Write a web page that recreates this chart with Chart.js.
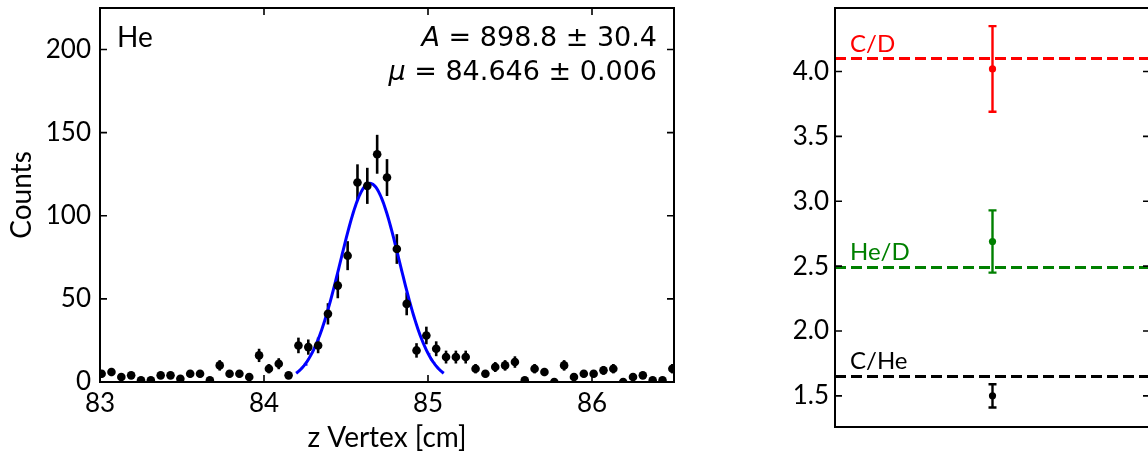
<!DOCTYPE html>
<html>
<head>
<meta charset="utf-8">
<script src="https://cdn.jsdelivr.net/npm/chart.js@4.4.1/dist/chart.umd.min.js"></script>
<style>
  html, body { margin: 0; padding: 0; background: #fff; overflow: hidden; }
  #wrap { position: relative; width: 1148px; height: 460px; overflow: hidden; }
  #peakChart { position: absolute; left: 0; top: 0; }
  #ratioChart { position: absolute; left: 760px; top: 0; }
</style>
</head>
<body>
<div id="wrap">
  <canvas id="peakChart" width="700" height="460"></canvas>
  <canvas id="ratioChart" width="400" height="460"></canvas>
</div>
<script>
// z-vertex bin centres [cm] and counts, He target
const zCenters = [
  83.01, 83.07, 83.13, 83.19, 83.25, 83.31, 83.37, 83.43, 83.49, 83.55,
  83.61, 83.67, 83.73, 83.79, 83.85, 83.91, 83.97, 84.03, 84.09, 84.15,
  84.21, 84.27, 84.33, 84.39, 84.45, 84.51, 84.57, 84.63, 84.69, 84.75,
  84.81, 84.87, 84.93, 84.99, 85.05, 85.11, 85.17, 85.23, 85.29, 85.35,
  85.41, 85.47, 85.53, 85.59, 85.65, 85.71, 85.77, 85.83, 85.89, 85.95,
  86.01, 86.07, 86.13, 86.19, 86.25, 86.31, 86.37, 86.43, 86.49
];
const heCounts = [
  5, 6, 3, 4, 1, 1, 4, 4, 2, 5,
  5, 1, 10, 5, 5, 3, 16, 8, 11, 4,
  22, 21, 22, 41, 58, 76, 120, 118, 137, 123,
  80, 47, 19, 28, 20, 15, 15, 15, 8, 5,
  9, 10, 12, 1, 8, 6, 0, 10, 3, 5,
  5, 7, 8, 0, 3, 4, 1, 1, 8
];
const binWidth = 0.06;

// gaussian fit result
const fitA = 898.8, fitAErr = 30.4;
const fitMu = 84.646, fitMuErr = 0.006;
const fitSigma = 0.18;

// measured ratios vs expectation
const ratioNames = ['C/D', 'He/D', 'C/He'];
const ratioValues = [4.02, 2.69, 1.50];
const ratioErrors = [0.33, 0.24, 0.09];
const ratioExpected = [4.10, 2.49, 1.65];
const ratioColors = ['#ff0000', '#008000', '#000000'];

const xTicksZ = [83, 84, 85, 86];

const tickFont = { family: 'Lato', size: 26 };
const titleFont = { family: 'Lato', size: 28 };

// keep the plot box exactly where the layout padding puts it
function noLabelPadding(s) {
  s.paddingTop = 0; s.paddingBottom = 0;
  s.paddingLeft = 0; s.paddingRight = 0;
}

// box + inward ticks on all sides
const frameTicks = {
  id: 'frameTicks',
  afterDraw(chart, args, opts) {
    const { ctx, chartArea: a, scales } = chart;
    const len = 7;
    ctx.save();
    ctx.strokeStyle = '#000';
    ctx.lineWidth = 1.6;
    ctx.beginPath();
    if (opts.xTicks) {
      scales.x.ticks.forEach(t => {
        const px = scales.x.getPixelForValue(t.value);
        ctx.moveTo(px, a.bottom); ctx.lineTo(px, a.bottom - len);
        ctx.moveTo(px, a.top); ctx.lineTo(px, a.top + len);
      });
    }
    scales.y.ticks.forEach(t => {
      const py = scales.y.getPixelForValue(t.value);
      ctx.moveTo(a.left, py); ctx.lineTo(a.left + len, py);
      ctx.moveTo(a.right, py); ctx.lineTo(a.right - len, py);
    });
    ctx.stroke();
    ctx.lineWidth = 2;
    ctx.strokeRect(a.left, a.top, a.right - a.left, a.bottom - a.top);
    ctx.restore();
  }
};

// vertical error bars, drawn under the markers
const errorBars = {
  id: 'errorBars',
  beforeDatasetsDraw(chart) {
    const { ctx, chartArea: a, scales: { x, y } } = chart;
    ctx.save();
    ctx.beginPath();
    ctx.rect(a.left, a.top, a.right - a.left, a.bottom - a.top);
    ctx.clip();
    chart.data.datasets.forEach(ds => {
      if (!ds.errors) return;
      ctx.strokeStyle = ds.errorColor;
      ctx.lineWidth = ds.errorWidth;
      ds.data.forEach((p, i) => {
        const e = ds.errors[i];
        if (!e) return;
        const px = x.getPixelForValue(p.x);
        const top = y.getPixelForValue(p.y + e);
        const bot = y.getPixelForValue(p.y - e);
        ctx.beginPath();
        ctx.moveTo(px, top); ctx.lineTo(px, bot);
        if (ds.capHalf) {
          ctx.moveTo(px - ds.capHalf, top); ctx.lineTo(px + ds.capHalf, top);
          ctx.moveTo(px - ds.capHalf, bot); ctx.lineTo(px + ds.capHalf, bot);
        }
        ctx.stroke();
      });
    });
    ctx.restore();
  }
};

// target name and fit parameters
const peakNotes = {
  id: 'peakNotes',
  afterDraw(chart) {
    const { ctx, chartArea: a } = chart;
    ctx.save();
    ctx.fillStyle = '#000';
    ctx.textBaseline = 'alphabetic';
    ctx.font = '28px Lato';
    ctx.textAlign = 'left';
    ctx.fillText('He', a.left + 17, a.top + 39);

    const lines = [
      ['A', ' = ' + fitA.toFixed(1) + ' \u00b1 ' + fitAErr.toFixed(1), a.top + 38],
      ['\u03bc', ' = ' + fitMu.toFixed(3) + ' \u00b1 ' + fitMuErr.toFixed(3), a.top + 72]
    ];
    const right = a.right - 17;
    lines.forEach(([sym, rest, base]) => {
      ctx.font = '27px "DejaVu Sans"';
      const wRest = ctx.measureText(rest).width;
      ctx.font = 'italic 27px "DejaVu Sans"';
      const wSym = ctx.measureText(sym).width;
      const x0 = right - wRest - wSym;
      ctx.fillText(sym, x0, base);
      ctx.font = '27px "DejaVu Sans"';
      ctx.fillText(rest, x0 + wSym, base);
    });
    ctx.restore();
  }
};

// names above the dashed expectation lines
const ratioNotes = {
  id: 'ratioNotes',
  afterDraw(chart) {
    const { ctx, chartArea: a, scales: { y } } = chart;
    ctx.save();
    ctx.font = '24px Lato';
    ctx.textAlign = 'left';
    ctx.textBaseline = 'alphabetic';
    ratioNames.forEach((name, i) => {
      ctx.fillStyle = ratioColors[i];
      ctx.fillText(name, a.left + 15, y.getPixelForValue(ratioExpected[i]) - 7);
    });
    ctx.restore();
  }
};

const heErrors = heCounts.map(n => Math.sqrt(n)); // Poisson errors
const hePoints = zCenters.map((z, i) => ({ x: z, y: heCounts[i] }));

const fitAmp = fitA * binWidth / (fitSigma * Math.sqrt(2 * Math.PI));
const fitCurve = [];
for (let k = 0; k <= 150; k++) {
  const z = fitMu - 2.5 * fitSigma + k * (5 * fitSigma / 150);
  fitCurve.push({ x: z, y: fitAmp * Math.exp(-0.5 * ((z - fitMu) / fitSigma) ** 2) });
}

new Chart(document.getElementById('peakChart'), {
  type: 'scatter',
  data: {
    datasets: [
      {
        data: hePoints,
        errors: heErrors,
        errorColor: '#000',
        errorWidth: 2.6,
        pointRadius: 4.3,
        pointBackgroundColor: '#000',
        pointBorderWidth: 0,
        showLine: false
      },
      {
        type: 'line',
        data: fitCurve,
        borderColor: '#0000ff',
        borderWidth: 3,
        pointRadius: 0,
        tension: 0,
        fill: false
      }
    ]
  },
  options: {
    responsive: false,
    animation: false,
    events: [],
    layout: { padding: { left: 0, top: 8, right: 26, bottom: 0 } },
    plugins: {
      legend: { display: false },
      tooltip: { enabled: false },
      frameTicks: { xTicks: true }
    },
    scales: {
      x: {
        type: 'linear',
        min: 83,
        max: 86.5,
        afterBuildTicks: s => { s.ticks = xTicksZ.map(v => ({ value: v })); },
        ticks: { font: tickFont, color: '#000', padding: 6, maxRotation: 0, autoSkip: false },
        grid: { display: false, drawTicks: false },
        border: { display: false },
        title: { display: true, text: 'z Vertex [cm]', font: titleFont, color: '#000', padding: { top: 0, bottom: 5 } },
        afterFit: s => { s.height = 78; noLabelPadding(s); }
      },
      y: {
        min: 0,
        max: 225,
        ticks: { stepSize: 50, includeBounds: false, font: tickFont, color: '#000', padding: 9 },
        grid: { display: false, drawTicks: false },
        border: { display: false },
        title: { display: true, text: 'Counts', font: titleFont, color: '#000', padding: { top: 5, bottom: 0 } },
        afterFit: s => { s.width = 100; noLabelPadding(s); }
      }
    }
  },
  plugins: [errorBars, frameTicks, peakNotes]
});

const ratioSets = [];
ratioExpected.forEach((v, i) => {
  ratioSets.push({
    type: 'line',
    data: [{ x: 0, y: v }, { x: 2, y: v }],
    borderColor: ratioColors[i],
    borderWidth: 3,
    borderDash: [11, 5],
    pointRadius: 0,
    fill: false
  });
});
ratioValues.forEach((v, i) => {
  ratioSets.push({
    data: [{ x: 1, y: v }],
    errors: [ratioErrors[i]],
    errorColor: ratioColors[i],
    errorWidth: 2.4,
    capHalf: 4,
    pointRadius: 3.6,
    pointBackgroundColor: ratioColors[i],
    pointBorderWidth: 0,
    showLine: false
  });
});

new Chart(document.getElementById('ratioChart'), {
  type: 'scatter',
  data: { datasets: ratioSets },
  options: {
    responsive: false,
    animation: false,
    events: [],
    layout: { padding: { left: 0, top: 8, right: 10, bottom: 33 } },
    plugins: {
      legend: { display: false },
      tooltip: { enabled: false },
      frameTicks: { xTicks: false }
    },
    scales: {
      x: { type: 'linear', min: 0, max: 2, display: false },
      y: {
        min: 1.26,
        max: 4.49,
        ticks: { stepSize: 0.5, includeBounds: false, font: tickFont, color: '#000', padding: 6,
                 callback: v => v.toFixed(1) },
        grid: { display: false, drawTicks: false },
        border: { display: false },
        afterFit: s => { s.width = 75; noLabelPadding(s); }
      }
    }
  },
  plugins: [errorBars, frameTicks, ratioNotes]
});
</script>
</body>
</html>
